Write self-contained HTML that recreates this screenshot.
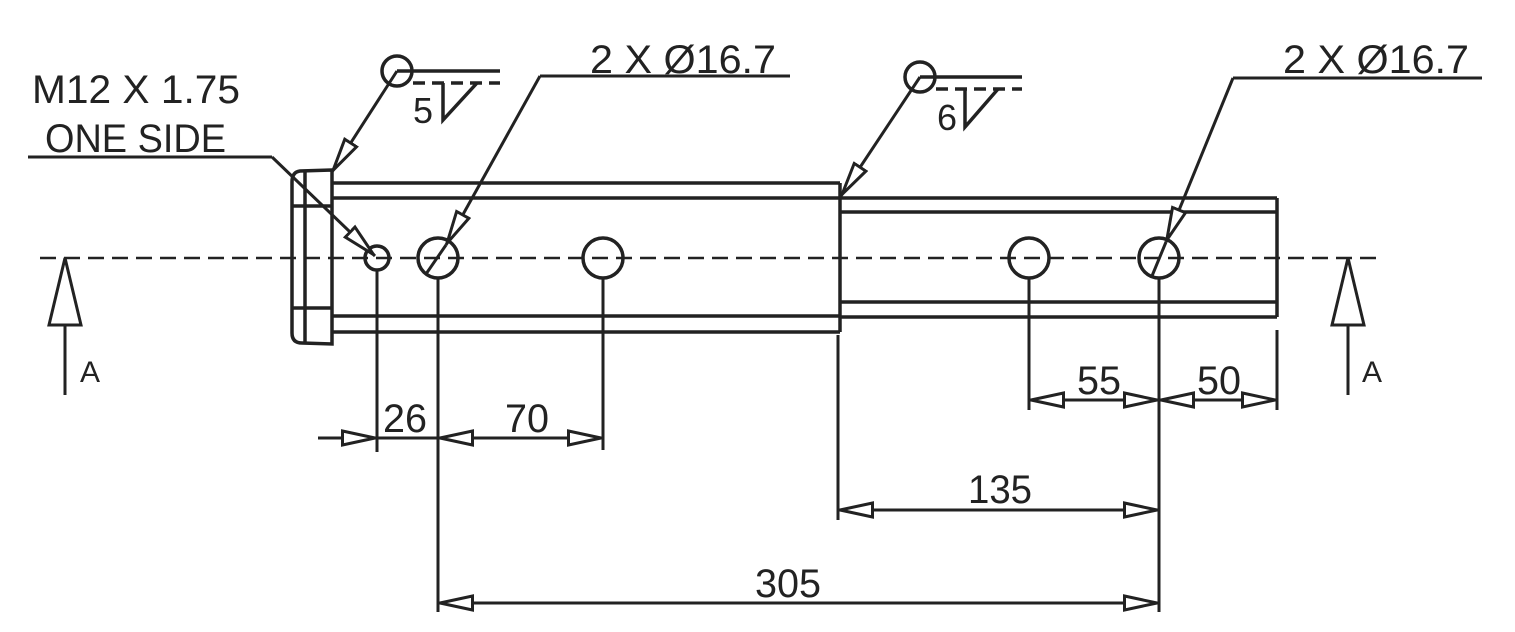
<!DOCTYPE html>
<html><head><meta charset="utf-8"><style>body{margin:0;background:#fff}svg{display:block}</style></head>
<body>
<svg width="1515" height="632" viewBox="0 0 1515 632" xmlns="http://www.w3.org/2000/svg">
<defs>
<marker id="ar" viewBox="0 0 36 18" refX="36" refY="9" markerWidth="36" markerHeight="18" markerUnits="userSpaceOnUse" orient="auto">
<path d="M1.5,2 L34,9 L1.5,16 Z" fill="#fff" stroke="#222" stroke-width="3"/>
</marker>
</defs>
<g stroke="#222" stroke-width="3.5" fill="none">
<line x1="40" y1="258" x2="1380" y2="258" stroke-dasharray="16,8" stroke-width="2.5"/>
<path d="M332,170 L300,171 Q292,172 292,182 L292,333 Q292,343 302,343 L332,344 Z"/>
<line x1="305" y1="172" x2="305" y2="343"/>
<line x1="292" y1="206" x2="332" y2="206"/>
<line x1="292" y1="308" x2="332" y2="308"/>
<line x1="332" y1="183" x2="840" y2="183"/>
<line x1="332" y1="198" x2="840" y2="198"/>
<line x1="332" y1="316" x2="840" y2="316"/>
<line x1="332" y1="332" x2="840" y2="332"/>
<line x1="840" y1="183" x2="840" y2="332"/>
<line x1="840" y1="198" x2="1277" y2="198"/>
<line x1="840" y1="212" x2="1277" y2="212"/>
<line x1="840" y1="302" x2="1277" y2="302"/>
<line x1="840" y1="317" x2="1277" y2="317"/>
<line x1="1277" y1="198" x2="1277" y2="317"/>
<circle cx="377" cy="258" r="12"/>
<circle cx="438" cy="258" r="20"/>
<circle cx="603" cy="258" r="20"/>
<circle cx="1029" cy="258" r="20"/>
<circle cx="1159" cy="258" r="20"/>
<circle cx="397" cy="71" r="15"/>
<line x1="397" y1="71" x2="500" y2="71"/>
<line x1="413" y1="83" x2="500" y2="83" stroke-dasharray="12,7"/>
<path d="M443,83 L443,120 L477,83"/>
<line x1="397" y1="71" x2="332" y2="172" marker-end="url(#ar)" stroke-width="3"/>
<circle cx="920" cy="77" r="15"/>
<line x1="920" y1="77" x2="1022" y2="77"/>
<line x1="936" y1="89" x2="1022" y2="89" stroke-dasharray="12,7"/>
<path d="M965,89 L965,127 L998,89"/>
<line x1="920" y1="77" x2="841" y2="196" marker-end="url(#ar)" stroke-width="3"/>
<line x1="540" y1="76" x2="790" y2="76" stroke-width="3"/>
<line x1="540" y1="76" x2="446" y2="245" marker-end="url(#ar)" stroke-width="3"/>
<line x1="426" y1="274" x2="446" y2="245" stroke-width="3"/>
<line x1="1233" y1="78" x2="1482" y2="78" stroke-width="3"/>
<line x1="1233" y1="78" x2="1166" y2="242" marker-end="url(#ar)" stroke-width="3"/>
<line x1="1152" y1="276" x2="1166" y2="242" stroke-width="3"/>
<line x1="28" y1="157" x2="272" y2="157" stroke-width="3"/>
<line x1="272" y1="157" x2="375" y2="256" marker-end="url(#ar)" stroke-width="3"/>
<line x1="65" y1="395" x2="65" y2="258" stroke-width="3"/>
<path d="M65,258 L49,325 L81,325 Z" fill="#fff" stroke-width="3"/>
<line x1="1348" y1="395" x2="1348" y2="258" stroke-width="3"/>
<path d="M1348,258 L1332,325 L1364,325 Z" fill="#fff" stroke-width="3"/>
<g stroke-width="3">
<line x1="377" y1="271" x2="377" y2="452"/>
<line x1="438" y1="278" x2="438" y2="612"/>
<line x1="603" y1="278" x2="603" y2="450"/>
<line x1="838" y1="335" x2="838" y2="520"/>
<line x1="1029" y1="278" x2="1029" y2="410"/>
<line x1="1159" y1="278" x2="1159" y2="612"/>
<line x1="1277" y1="330" x2="1277" y2="410"/>
<line x1="318" y1="438" x2="377" y2="438" marker-end="url(#ar)"/>
<line x1="377" y1="438" x2="438" y2="438"/>
<line x1="520" y1="438" x2="438" y2="438" marker-end="url(#ar)"/>
<line x1="520" y1="438" x2="603" y2="438" marker-end="url(#ar)"/>
<line x1="1090" y1="400" x2="1029" y2="400" marker-end="url(#ar)"/>
<line x1="1090" y1="400" x2="1159" y2="400" marker-end="url(#ar)"/>
<line x1="1218" y1="400" x2="1159" y2="400" marker-end="url(#ar)"/>
<line x1="1218" y1="400" x2="1277" y2="400" marker-end="url(#ar)"/>
<line x1="1000" y1="510" x2="838" y2="510" marker-end="url(#ar)"/>
<line x1="1000" y1="510" x2="1159" y2="510" marker-end="url(#ar)"/>
<line x1="800" y1="603" x2="438" y2="603" marker-end="url(#ar)"/>
<line x1="800" y1="603" x2="1159" y2="603" marker-end="url(#ar)"/>
</g>
</g>
<g font-family="'Liberation Sans', sans-serif" fill="#222" font-size="40">
<text x="32" y="103" textLength="208" lengthAdjust="spacingAndGlyphs">M12 X 1.75</text>
<text x="45" y="152" textLength="181" lengthAdjust="spacingAndGlyphs">ONE SIDE</text>
<text x="590" y="73" textLength="186" lengthAdjust="spacingAndGlyphs">2 X Ø16.7</text>
<text x="1283" y="73" textLength="186" lengthAdjust="spacingAndGlyphs">2 X Ø16.7</text>
<text x="413" y="123" font-size="36">5</text>
<text x="937" y="130" font-size="36">6</text>
<text x="383" y="432" textLength="44" lengthAdjust="spacingAndGlyphs">26</text>
<text x="505" y="432" textLength="44" lengthAdjust="spacingAndGlyphs">70</text>
<text x="1077" y="394" textLength="44" lengthAdjust="spacingAndGlyphs">55</text>
<text x="1197" y="394" textLength="44" lengthAdjust="spacingAndGlyphs">50</text>
<text x="968" y="503" textLength="64" lengthAdjust="spacingAndGlyphs">135</text>
<text x="755" y="597" textLength="66" lengthAdjust="spacingAndGlyphs">305</text>
<text x="80" y="382" font-size="30">A</text>
<text x="1362" y="382" font-size="30">A</text>
</g>
</svg>
</body></html>
